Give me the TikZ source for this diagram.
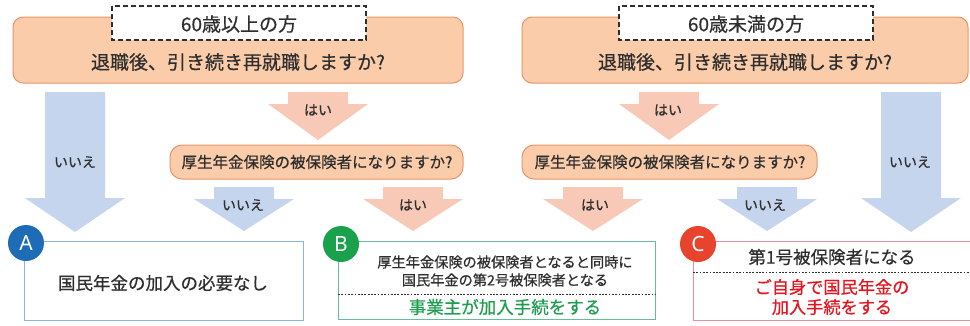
\documentclass[tikz,border=0pt]{standalone}
\usepackage{fontspec}
\setmainfont{Noto Sans CJK JP}[FakeBold=0.5]
\newfontfamily\circfont{Noto Sans}
\definecolor{peach}{HTML}{FBCCAA}
\definecolor{peachline}{HTML}{E8946A}
\definecolor{pinkarr}{HTML}{F9C9B8}
\definecolor{bluearr}{HTML}{C6D5EE}
\definecolor{txt}{HTML}{2E2E2E}
\definecolor{cA}{HTML}{1E6CB6}
\definecolor{cB}{HTML}{1AA14B}
\definecolor{cC}{HTML}{E8432D}
\definecolor{bA}{HTML}{8FB4DA}
\definecolor{bB}{HTML}{66BE95}
\definecolor{bC}{HTML}{E88E9A}
\definecolor{gtext}{HTML}{1E9D4E}
\definecolor{rtext}{HTML}{E5141E}
\newcommand{\blockarr}[5]{% x, ytop, yneck, ytip, color
  \fill[#5] (#1-30,#2) -- (#1+30,#2) -- (#1+30,#3) -- (#1+50,#3) -- (#1,#4) -- (#1-50,#3) -- (#1-30,#3) -- cycle;
}
\begin{document}
\begin{tikzpicture}[x=1pt,y=-1pt,
  every node/.style={text=txt, inner sep=0pt},
  bigq/.style={draw=peachline, fill=peach, line width=1pt, rounded corners=10pt},
  smallq/.style={draw=peachline, fill=peach, line width=1pt, rounded corners=12pt},
  tagbox/.style={draw=txt, fill=white, dashed, dash pattern=on 5pt off 3pt, line width=1.4pt},
  lbl/.style={font=\fontsize{14}{16}\selectfont},
  circ/.style={circle, minimum size=36pt, text=white, font=\circfont\bfseries\fontsize{21}{22}\selectfont},
  dotline/.style={draw=txt, dash pattern=on 1.8pt off 1.5pt, line width=0.8pt}
]
\useasboundingbox (0,0) rectangle (970,325);
\clip (0,0) rectangle (970,325);

% top question boxes
\path[bigq] (13,17) rectangle (463,83);
\path[bigq] (522,17) rectangle (968,83);
\path[tagbox] (112,6) rectangle (366,40);
\path[tagbox] (619,6) rectangle (873,40);
\node[font=\fontsize{19}{22}\selectfont] (tagL) at (239,24) {60歳以上の方};
\node[font=\fontsize{19}{22}\selectfont] (tagR) at (746,24) {60歳未満の方};
\node[font=\fontsize{19}{22}\selectfont] (qL) at (238,62) {退職後、引き続き再就職しますか?};
\node[font=\fontsize{19}{22}\selectfont] (qR) at (745,62) {退職後、引き続き再就職しますか?};

% big arrows
\blockarr{75}{92}{198}{232}{bluearr}
\blockarr{911}{92}{198}{232}{bluearr}
\node[lbl] (noL) at (75,162) {いいえ};
\node[lbl] (noR) at (910,162) {いいえ};

% top yes arrows
\blockarr{318}{92}{104}{140}{pinkarr}
\blockarr{669}{92}{104}{140}{pinkarr}
\node[lbl] (yesL) at (318,110) {はい};
\node[lbl] (yesR) at (668,110) {はい};

% second questions
\path[smallq] (170,145) rectangle (463,179);
\path[smallq] (522,145) rectangle (817,179);
\node[font=\fontsize{15.5}{18}\selectfont] (q2L) at (317,162) {厚生年金保険の被保険者になりますか?};
\node[font=\fontsize{15.5}{18}\selectfont] (q2R) at (670,162) {厚生年金保険の被保険者になりますか?};

% small arrows
\blockarr{244}{187}{199}{231}{bluearr}
\blockarr{413}{187}{199}{231}{pinkarr}
\blockarr{593}{187}{199}{231}{pinkarr}
\blockarr{767}{187}{199}{231}{bluearr}
\node[lbl] (no2L) at (243,205) {いいえ};
\node[lbl] (yes2L) at (413,205) {はい};
\node[lbl] (yes2R) at (595,205) {はい};
\node[lbl] (no2R) at (765,205) {いいえ};

% result boxes
\draw[bA, line width=1pt, fill=white] (24,241) rectangle (303,320);
\draw[bB, line width=1pt, fill=white] (338,241) rectangle (655,319);
\draw[bC, line width=1pt, fill=white] (693,241) rectangle (980,320);

\node[font=\fontsize{17.5}{20}\selectfont] (tA) at (163,283) {国民年金の加入の必要なし};

\node[font=\fontsize{14.2}{18}\selectfont, align=center] (tB) at (505,271) {厚生年金保険の被保険者となると同時に\\国民年金の第2号被保険者となる};
\draw[dotline] (338,294) -- (655,294);
\node[font=\fontsize{17.5}{20}\selectfont, text=gtext] (tB2) at (505,307) {事業主が加入手続をする};

\node[font=\fontsize{17.5}{20}\selectfont] (tC) at (832,257) {第1号被保険者になる};
\draw[dotline] (693,272) -- (970,272);
\node[font=\fontsize{17.2}{20}\selectfont, text=rtext, align=center] (tC2) at (832,297) {ご自身で国民年金の\\加入手続をする};

% circles
\node[circ, fill=cA] (cirA) at (26,243) {A};
\node[circ, fill=cB] (cirB) at (341,244) {B};
\node[circ, fill=cC] (cirC) at (698,244) {C};
\end{tikzpicture}
\end{document}
